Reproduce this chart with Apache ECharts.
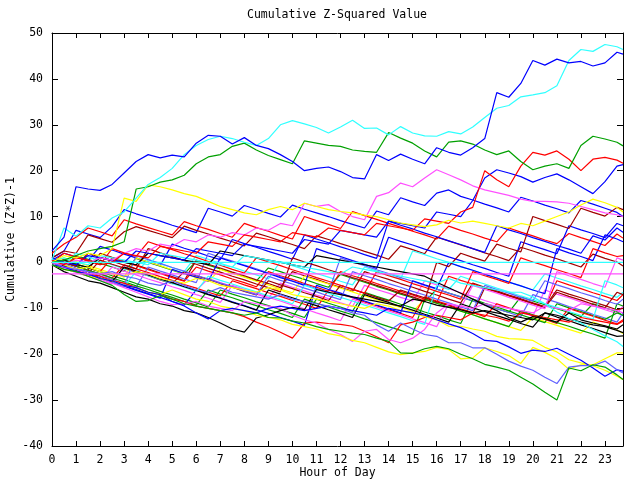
<!DOCTYPE html>
<html>
<head>
<meta charset="utf-8">
<script src="https://cdn.jsdelivr.net/npm/echarts@6/dist/echarts.min.js"></script>
<style>html,body{margin:0;padding:0;background:#fff;}#c{width:640px;height:480px;}</style>
</head>
<body>
<div id="c"></div>
<script>
// ---- data (half-hour samples) ----
const hours = [0,0.5,1,1.5,2,2.5,3,3.5,4,4.5,5,5.5,6,6.5,7,7.5,8,8.5,9,9.5,10,10.5,11,11.5,12,12.5,13,13.5,14,14.5,15,15.5,16,16.5,17,17.5,18,18.5,19,19.5,20,20.5,21,21.5,22,22.5,23,23.5,23.75];
const xTicks = [0,1,2,3,4,5,6,7,8,9,10,11,12,13,14,15,16,17,18,19,20,21,22,23];
const yTicks = [-40,-30,-20,-10,0,10,20,30,40,50];

const p1 = [1,2.5,7,6.2,5.4,7.8,11.5,10.6,9.8,9,8.1,7.3,6.5,11.8,11,10.1,12.4,11.6,10.7,9.9,12.5,11.6,10.8,10,9.1,8.3,7.5,11.2,10.4,14.1,13.2,12.4,15.1,15.8,14.4,13.6,12.7,11.9,11,14.2,13.4,12.5,11.7,10.8,13.5,12.7,11.8,10.9,10];
const p2 = [2,4,5.5,7.5,6.7,5.8,9.3,8.4,7.6,6.8,6,8.9,8,7.2,6.3,5.5,8.5,7.6,6.8,5.9,5.1,10,9.1,8.3,7.4,11.1,10.2,9.4,8.5,7.7,6.8,6,5.1,7.9,7,6.2,5.3,4.5,7.5,6.6,5.8,4.9,4.1,6.3,5.4,4.6,3.7,6.2,5.3];
const p3 = [1,2.5,2,6,5.2,4.4,6.7,7.8,7,6.2,5.4,7.9,7,6.2,5.3,4.5,3.6,6.4,5.6,4.7,3.9,3,5.8,5,4.1,3.3,2.4,1.6,0.7,3.6,2.8,1.9,5.5,4.7,3.8,3,2.1,1.3,0.4,3.3,2.5,1.6,0.8,-0.1,-1,1.8,0.9,0.1,-0.8];
const p4 = [0,-1,1.5,0.7,-0.2,-1,-1.9,0.9,0,-0.8,-1.7,-2.5,0.3,-0.6,-1.4,-2.3,-3.1,-4,-1.2,-2,-2.9,-3.7,-4.6,-5.4,-2.6,-3.5,-4.3,-5.2,-6,-6.9,-7.7,-8.6,-5.8,-6.7,-7.5,-8.4,-9.2,-10.1,-10.9,-7.5,-8.4,-9.2,-10.1,-10.9,-11.8,-9,-9.9,-10.7,-11.6];
const p5 = [0.5,2,1.2,0.4,3.5,2.7,1.8,1,0.1,-0.7,4,3.1,2.3,1.4,0.6,5,4.1,3.3,2.4,1.6,0.7,6,5.1,4.3,3.4,2.6,1.7,0.9,9,8.1,7.3,6.4,5.6,4.7,3.9,3,2.2,8,7.1,6.3,5.4,4.6,3.7,2.9,2,5.8,4.9,7.5,6.6];
const p6 = [-0.5,-1.3,-2.2,-3,-3.9,-4.7,-1,-1.9,-2.7,-3.6,-4.4,-5.3,-6.1,-3.5,-4.4,-5.2,-6.1,-6.9,-7.8,-4.5,-5.4,-6.2,-7.1,-7.9,-8.8,-9.6,-5,-5.9,-6.7,-7.6,-8.4,-4,-4.9,-5.7,-6.6,-7.4,-8.3,-9.1,-10,-10.8,-11.7,-6,-6.9,-7.7,-8.6,-9.4,-10.3,-11.1,-9.5];
const p7 = [0,-0.5,2,1.2,0.3,-0.5,-1.4,-2.2,0.6,-0.3,-1.1,-2,1.5,0.7,-0.2,-1,-1.9,-2.7,-3.6,0.2,-0.7,-1.5,-2.4,-3.2,-4.1,-4.9,-1,-1.9,-2.7,-3.6,2.5,1.7,0.8,0,-0.9,-1.7,-2.6,-3.4,-4.3,-5.1,-6,-2.5,-3.4,-4.2,-5.1,-5.9,-6.8,-7.6,-6.5];
const p8 = [0.5,0,-0.8,-1.7,2,1.1,0.3,-0.6,-1.4,-2.3,-3.1,-4,0.5,-0.4,-1.2,-2.1,-2.9,-3.8,-4.6,-5.5,-2,-2.9,-3.7,-4.6,-5.4,-6.3,-2,-2.9,-3.7,-4.6,-5.4,-6.3,-7.1,-8,-8.8,-4.5,-5.4,-6.2,-7.1,-7.9,-8.8,-9.6,-6,-6.9,-7.7,-8.6,-9.4,-10.3,-10];
const p9 = [0,1,0.2,-0.7,-1.5,-2.4,-3.2,1,0.1,-0.7,-1.6,-2.4,-3.3,-4.1,-1.5,-2.4,-3.2,-4.1,-4.9,-5.8,-6.6,-3,-3.9,-4.7,-5.6,-6.4,-7.3,-8.1,-9,-9.8,-10.7,-8,-8.9,-9.7,-10.6,-11.4,-12.3,-13.1,-14,-14.8,-12,-12.9,-13.7,-14.6,-15.4,-13,-13.9,-14.7,-15.5];
const p10 = [0,0.5,-0.3,-1.2,-2,1,0.1,-0.7,-1.6,-2.4,-3.3,-4.1,-1,-1.9,-2.7,-3.6,-4.4,-5.3,-2,-2.9,-3.7,-4.6,-5.4,-6.3,-2,-2.9,-3.7,-4.6,-5.4,-6.3,-7.1,-8,-8.8,-3,-3.9,-4.7,-5.6,-6.4,-7.3,-8.1,-9,-9.8,-4,-4.9,-5.7,-6.6,-7.4,-8.3,-7];
const p11 = [0.5,-0.3,-1.2,-2,-2.9,-3.7,-4.6,-5.4,-1,-1.9,-2.7,-3.6,-4.4,2,1.1,0.3,-0.6,-1.4,-2.3,-3.1,-4,-4.8,-5.7,-6.5,1,0.1,-0.7,-1.6,-2.4,-3.3,-4.1,-5,-5.8,-6.7,-7.5,-8.4,-9.2,-10.1,-10.9,-11.8,-7,-7.9,-8.7,-9.6,-10.4,-11.3,-12.1,-13,-11];
const p12 = [0,-1,-1.8,-2.7,-3.5,-4.4,-5.2,-6.1,-6.9,-7.8,-1.5,-2.4,-3.2,-4.1,1,0.1,-0.7,-1.6,-2.4,-3.3,-4.1,-5,3,2.1,1.3,0.4,-0.4,-1.3,5.5,4.6,3.8,2.9,2.1,1.2,0.4,-0.5,-1.3,-2.2,-3,4.5,3.6,2.8,1.9,8,7.1,6.3,5.4,8.5,8];
const p13 = [0,0.5,-0.3,-1.2,-2,-2.9,-3.7,-4.6,-5.4,-6.3,-7.1,-8,-8.8,-9.7,-6,-6.9,-7.7,-8.6,-9.4,-10.3,-11.1,-12,-8,-8.9,-9.7,-10.6,-6.5,-7.4,-8.2,-9.1,-9.9,-10.8,-11.6,-12.5,-13.3,-8,-8.9,-9.7,-10.6,-11.4,-12.3,-13.1,-9,-9.9,-10.7,-11.6,-12.4,-11,-11.5];
const p14 = [0.5,0,-0.8,-1.7,-2.5,-3.4,-0.5,-1.4,-2.2,-3.1,-3.9,-4.8,-5.6,-6.5,-7.3,-4,-4.9,-5.7,-6.6,-7.4,-8.3,-9.1,-10,-6,-6.9,-7.7,-8.6,-9.4,-10.3,-11.1,-12,-7.5,-8.4,-9.2,-10.1,-10.9,-11.8,-9,-9.9,-10.7,-11.6,-12.4,-13.3,-10,-10.9,-11.7,-12.6,-13.4,-12.5];
const p15 = [0,-0.8,-1.7,-2.5,0.5,-0.4,-1.2,-2.1,-2.9,-3.8,-4.6,-2,-2.9,-3.7,-4.6,-5.4,-6.3,-7.1,-4,-4.9,-5.7,-6.6,-7.4,-8.3,-5,-5.9,-6.7,-7.6,-8.4,-6,-6.9,-7.7,-8.6,-9.4,-10.3,-11.1,-5.5,-6.4,-7.2,-8.1,-8.9,-9.8,-6.5,-7.4,-8.2,-9.1,-9.9,-6.5,-7];
const p16 = [0,-0.8,-1.7,-2.5,-3.4,-4.2,-5.1,-5.9,-6.8,-7.6,-8.5,-9.3,-6,-6.9,-7.7,-8.6,-9.4,-10.3,-11.1,-12,-12.8,-13.7,-5,-5.9,-6.7,-7.6,-8.4,-9.3,-10.1,-11,-4,-4.9,-5.7,0,-0.9,-1.7,-2.6,-3.4,-4.3,-5.1,-6,-6.8,3,2.1,1.3,0.4,6,5.1,4.5];
const p17 = [-0.5,-1.3,-2.2,-3,-3.9,-1,-1.9,-2.7,-3.6,-4.4,-5.3,-6.1,-7,-7.8,-8.7,-5,-5.9,-6.7,-7.6,-8.4,-9.3,-10.1,-11,-11.8,-12.7,-8,-8.9,-9.7,-10.6,-11.4,-12.3,-13.1,-14,-9,-9.9,-5,-5.9,-6.7,-7.6,-8.4,-9.3,-10.1,-2,-2.9,-3.7,-4.6,-5.4,1,0.5];
const p18 = [0.5,0,-0.8,-1.7,-2.5,-3.4,-4.2,-5.1,-5.9,-6.8,-7.6,-8.5,-9.3,-6,-6.9,-7.7,-8.6,-9.4,-10.3,-11.1,-12,-8,-8.9,-9.7,-10.6,-11.4,-12.3,-13.1,-14,-14.8,-15.7,-8,-8.9,-9.7,-10.6,-11.4,-12.3,-13.1,-14,-10.5,-11.4,-12.2,-13.1,-13.9,-14.8,-15.6,-16.5,-9,-9.5];
const p19 = [0,-0.8,-1.7,-2.5,-3.4,-4.2,-5.1,-2,-2.9,-3.7,-4.6,-5.4,-6.3,-3,-3.9,-4.7,-5.6,-6.4,-7.3,-8.1,-9,-5,-5.9,-6.7,-7.6,-8.4,-9.3,-10.1,-11,-11.8,-12.7,-13.5,-5,-5.9,-3,-3.9,-4.7,-5.6,-6.4,-7.3,-8.1,-9,-9.8,-10.7,-11.5,-12.4,-4,-4.9,-5.5];
const p20 = [0,2,1.2,0.3,-0.5,3,2.1,1.3,4.5,3.6,2.8,1.9,1.1,0.2,-0.6,-1.5,-2.3,1,0.1,-0.7,-1.6,-2.4,-3.3,-4.1,-5,-5.8,-6.7,-2,-2.9,-3.7,-4.6,-5.4,-6.3,-7.1,-8,-2,-2.9,-3.7,-4.6,1,0.1,-0.7,-1.6,-2.4,-3.3,3,2.1,1.3,1.5];
const p21 = [0,-0.8,-1.7,-2.5,-3.4,-4.2,-5.1,1.5,0.6,-0.2,-1.1,-1.9,-2.8,-3.6,-4.5,-5.3,-6.2,-7,-3,-3.9,-4.7,-5.6,-6.4,-7.3,-8.1,-2,-2.9,-3.7,-4.6,-5.4,-6.3,-7.1,-8,-8.8,-9.7,-10.5,-5,-5.9,-6.7,-7.6,-8.4,-4,-4.9,-5.7,-6.6,-7.4,-8.3,-9.1,-8];
const p22 = [0,-0.8,-1.7,-2.5,-3.4,-4.2,-1,-1.9,-2.7,-3.6,-4.4,-5.3,-6.1,-7,-7.8,-8.7,-9.5,-10.4,-6,-6.9,-7.7,-8.6,-9.4,-10.3,-11.1,-12,-7,-7.9,-8.7,-9.6,-10.4,-11.3,-12.1,-13,-9,-9.9,-10.7,-11.6,-12.4,-13.3,-14.1,-11,-11.9,-12.7,-13.6,-14.4,-15.3,-16.1,-16];
const p23 = [0.5,0,-0.8,2,1.1,0.3,-0.6,-1.4,3,2.1,1.3,0.4,-0.4,-1.3,-2.1,-3,-3.8,-4.7,-5.5,-6.4,1,0.1,-0.7,-1.6,-2.4,-3.3,-4.1,-5,-5.8,-6.7,-7.5,-8.4,0,-0.9,2,1.1,0.3,4,3.1,2.3,10,9.1,8.3,7.4,11.8,10.9,10.1,12,11.5];

const blueTop = [2.5,5.5,16.5,16,15.7,17,19.5,22,23.5,22.8,23.4,23,26,27.7,27.5,25.8,27.2,25.5,24.8,23.5,22,20,20.5,20.8,19.8,18.5,18.2,23.5,22.2,23.6,22.5,21.5,25,24,23.4,25,27,37,36,39,44,43,44.3,43.5,43.8,42.8,43.5,45.8,45.4];
const cyanTop = [0.5,7.5,5.7,8,7.5,9.7,11,14,17,18.5,20.5,23.5,25.5,26.8,27.5,27,26.2,25.5,27,30,30.9,30.2,29.4,28.2,29.5,31,29.2,29.3,27.8,29.6,28.2,27.6,27.5,28.5,28,29.5,31.6,33.6,34.2,36.1,36.5,37,38.5,44,46.4,46,47.5,47,46.4];
const greenUpper = [0,0.5,1.5,2.5,3,3.5,4.5,16,16.5,17.5,18,19,21.5,23,23.5,25.3,26,24.5,23.3,22.4,21.5,26.5,26,25.5,25.3,24.5,24.2,24,28.3,27.1,26,24.3,23,26.2,26.5,25.8,24.5,23.5,24.3,22,20.2,21,21.5,20.5,25.5,27.5,26.9,26.2,25.4];
const yellowUpper = [0,1.5,1,2,1.5,3,14,13.3,16.9,16.5,15.8,15,14.4,13.3,12.2,11.5,10.8,10.4,11.5,12.2,11.5,12.9,12.2,11.5,11.1,10.8,10.3,10,9.3,8.6,8.2,7.8,8.2,9.2,8.6,9,8.5,8,7.5,8.5,8,9,10,11,12.5,13.8,13,12,11];
const redUpper = [0.5,-0.5,1,0.5,-0.5,0,2,1.5,1,3.5,3,2.5,2,4.5,4,3.5,6,5.5,5,4.5,6.5,6,5.5,7.5,7,6.5,6,8.5,8,7.5,7,9.5,9,8.5,11,12,20,18,16.5,21,24,23.4,24.3,22.5,20,22.5,22.9,22.3,21.6];
const magentaUpper = [0,-0.5,0.5,0,1,0.5,2,3,2.5,4,3.5,5,4.5,6,5.5,6.5,6,7.5,7,8.5,8,12.9,12.2,12.6,11.1,10,9.3,14.4,15.2,17.3,16.5,18.4,20.2,19.1,18,16.7,15.8,15.2,14.6,13.8,13.3,13.3,13.2,12.9,12.2,11.5,10.8,10.4,10];
const blueMid = [1,0,-0.5,1.5,1,0.5,0,2.5,2,1.5,1,0.5,3,2.5,2,1.5,4,3.5,3,2.5,2,5,4.5,4,7,6.5,6,5.5,9,8.5,8,7.5,11,10.5,10,13.5,18.4,20.2,19.5,18.7,17.5,18.5,19.3,18,16.5,15,17.6,21,21.3];
const greenLow = [-0.5,-1.5,-2,-3,-4,-5,-7,-8.5,-8.3,-7.2,-8,-9,-9.5,-10,-10.5,-11,-11.5,-11,-12,-12.1,-12.8,-13.2,-14,-14.6,-15,-15.4,-15.7,-16.5,-17.2,-19.7,-19.8,-18.8,-18.3,-18.8,-20,-21,-22.2,-22.8,-23.5,-25,-26.5,-28.3,-30,-23,-23.6,-22.3,-22.8,-24.5,-25.5];
const slateLow = [0,-1,-1.5,-2,-2.5,-2,-3,-3.5,-4.5,-5,-4,-5,-6,-6.5,-5.5,-6.5,-7,-7.5,-8,-7,-8,-8.5,-9,-9.5,-10,-11,-11.5,-13.6,-15,-13.2,-14.5,-15.7,-16.1,-17.5,-17.5,-18.6,-18.6,-20,-21.5,-22.6,-23.5,-25,-26.4,-22.8,-22.5,-22.5,-21.5,-23.4,-24.1];
const blueLow = [-0.5,-1,-2,-2.5,-3.5,-4,-5,-5.5,-6.5,-7,-8.5,-9.5,-11,-12.3,-10.5,-10,-10.5,-11,-10,-9.5,-10,-10.5,-10,-9.5,-10,-10.5,-11,-11.5,-10,-10.5,-11,-11.5,-12.5,-13.4,-14.2,-15.5,-17,-17.2,-18.4,-19.8,-19.1,-19.4,-18.7,-20,-21.3,-23,-24.8,-23.4,-23.7];
const yellowLow1 = [0,-0.5,-1.5,-1,-2,-2.5,-3,-2,-2.5,-3.5,-4,-4.5,-3.5,-4,-5,-5.5,-6,-6.5,-5.5,-6,-7,-7.5,-8,-8.5,-9,-9.5,-10,-9,-9.5,-10.5,-11,-11.8,-12.5,-13.9,-13.9,-14.5,-15,-16.1,-16.6,-16.7,-17,-18.5,-19.5,-21.2,-21.9,-22.5,-23.5,-24.8,-25.5];
const yellowLow2 = [-0.5,-1.5,-2,-3,-3.5,-4,-5,-5.5,-6.5,-7,-6,-7,-8,-8.5,-9.5,-10,-10.5,-11.5,-12,-12.5,-13.5,-14,-14.5,-15.5,-16,-17,-17.5,-18.5,-19.5,-20.1,-19.7,-19.4,-18.5,-19,-21,-20.8,-18.6,-19.4,-20.3,-22,-18.5,-19.6,-21,-23.3,-22.3,-22.3,-21,-19.7,-19.7];
const cyanLow = [0.5,1,0,-0.5,1.5,1,0.5,0,-0.5,2,1.5,1,0.5,0,-0.5,-1,1.5,1,0.5,0,-0.5,-1,-1.5,-2,-2.5,-1,-1.5,-2,-2.5,-3,-3.5,-4,-4.5,-3.5,-4.5,-5,-5.5,-6,-6.5,-6.5,-7.5,-9,-10.8,-12.2,-13.2,-14.6,-16,-17.3,-18.3];
const blackLate = [0,0.5,-0.5,-1,1,0.5,0,-0.5,2,1.5,1,0.5,0,-0.5,2.5,2,1.5,1,0.5,0,-0.5,-1,1.5,1,0.5,0,-0.5,-1,-1.5,-2,-2.5,-3,-4.3,-5.5,-6.7,-8,-9.3,-10.5,-12,-13,-11.8,-12.3,-13,-11,-12.5,-13.2,-13.8,-14.5,-13.6];
const blackEarly = [-0.5,-2,-3,-4,-4.5,-5.5,-6.5,-7.5,-8,-9,-9.5,-10.5,-11,-12,-13.2,-14.5,-15.2,-12.1,-11.4,-10.5,-9.8,-10.3,-5.9,-6.5,-7,-7.5,-8,-8.5,-9,-9.5,-8,-8.5,-9.3,-9.8,-10.3,-11,-10.5,-11,-11.5,-12,-12.5,-11,-11.5,-12.3,-13,-13.6,-14,-14.8,-15.3];
const redLow = [0,-1,-1.5,-2.5,-3,-4,-4.5,-5.5,-6.5,-7,-8,-8.5,-9.5,-10,-10.5,-11,-11.8,-13,-14,-15.2,-16.5,-13.2,-13,-13.3,-13.5,-13.9,-15,-16.2,-17.5,-13.6,-13,-12,-11.5,-12,-12.5,-11,-11.5,-12,-12.8,-11,-11.5,-12,-12.5,-13,-12,-12.5,-13,-13.5,-12.8];
const magentaLow = [0,-1,-1.5,-2.5,-3.5,-4.5,-5.5,-6.5,-7.5,-8.5,-9.2,-9,-8.5,-9.5,-10,-10.5,-8.5,-9,-9.5,-10,-11.5,-12.5,-13.2,-14.6,-15.7,-17.2,-15,-14.6,-16.8,-17.5,-16.5,-14.6,-11,-9,-9.5,-10,-9,-9.5,-10,-10.5,-11,-9.5,-10,-10.5,-9,-9.5,-10,-10.5,-11];
const cyanFlat = [0,0,0,0,0,0,0,0,0,0,0,0,0,0,0,0,0,0,0,0,0,0,0,0,0,0,0,0,0,0,0,0,0,0,0,0,0,0,0,0,0,0,0,0,0,0,0,0,0];
const magentaFlat = [-2.5,-2.5,-2.5,-2.5,-2.5,-2.5,-2.5,-2.5,-2.5,-2.5,-2.5,-2.5,-2.5,-2.5,-2.5,-2.5,-2.5,-2.5,-2.5,-2.5,-2.5,-2.5,-2.5,-2.5,-2.5,-2.5,-2.5,-2.5,-2.5,-2.5,-2.5,-2.5,-2.5,-2.5,-2.5,-2.5,-2.5,-2.5,-2.5,-2.5,-2.5,-2.5,-2.5,-2.5,-2.5,-2.5,-2.5,-2.5,-2.5];

// ---- styling ----
const RED='#ff0000', GRN='#00a000', BLU='#0000ff', MAG='#ff50ff', CYN='#30ffff', DRD='#a00000', YEL='#ffff00', BLK='#000000', SLT='#6060ff';
const lines = [
  [p1,BLU],[p2,RED],[p3,DRD],[p4,GRN],[p5,BLU],[p6,MAG],[p7,CYN],[p8,DRD],[p9,YEL],[p10,RED],
  [p11,SLT],[p12,BLU],[p13,GRN],[p14,RED],[p15,DRD],[p16,BLU],[p17,MAG],[p18,GRN],[p19,CYN],[p20,RED],
  [p21,SLT],[p22,BLK],[p23,DRD],
  [redLow,RED],[magentaLow,MAG],[blackEarly,BLK],[blackLate,BLK],[cyanLow,CYN],[yellowLow2,YEL],[yellowLow1,YEL],
  [blueLow,BLU],[slateLow,SLT],[greenLow,GRN],[blueMid,BLU],[magentaUpper,MAG],[redUpper,RED],[yellowUpper,YEL],
  [greenUpper,GRN],[cyanTop,CYN],[blueTop,BLU],[cyanFlat,CYN],[magentaFlat,MAG]
];
const bad = lines.map((l,i)=>[i,l[0].length]).filter(a=>a[1]!==hours.length);

const FONT = '"DejaVu Sans Mono", monospace';
const FS = 11.5;
const txt = {color:'#000', fontFamily:FONT, fontSize:FS};
const axLine = {show:true, onZero:false, lineStyle:{color:'#000', width:1}};
const axTick = {show:true, inside:true, length:5, lineStyle:{color:'#000', width:1}};

const chart = echarts.init(document.getElementById('c'), null, {renderer:'canvas'});
chart.setOption({
  animation:false,
  backgroundColor:'#fff',
  grid:{left:52, right:17, top:33, bottom:34, containLabel:false, outerBoundsMode:'none'},
  graphic:[{type:'text', x:337, y:15, style:{text:'Cumulative Z-Squared Value', fill:'#000', font:FS+'px '+FONT, align:'center', verticalAlign:'middle'}}],
  xAxis:[
    {type:'value', min:0, max:23.75, interval:1, axisLine:axLine, axisTick:axTick, splitLine:{show:false},
     axisLabel:Object.assign({margin:8, showMaxLabel:false, formatter:v=>xTicks.includes(v)?String(v):''}, txt),
     name:'Hour of Day', nameLocation:'middle', nameGap:21, nameMoveOverlap:false, nameTextStyle:txt},
    {type:'value', position:'top', min:0, max:23.75, interval:1, axisLine:axLine, axisTick:axTick, splitLine:{show:false}, axisLabel:{show:false}}
  ],
  yAxis:[
    {type:'value', min:-40, max:50, interval:10, axisLine:axLine, axisTick:Object.assign({}, axTick, {length:6}), splitLine:{show:false},
     axisLabel:Object.assign({margin:9, formatter:v=>yTicks.includes(v)?String(v):''}, txt),
     name:'Cumulative (Z*Z)-1', nameLocation:'middle', nameGap:35, nameMoveOverlap:false, nameRotate:90, nameTextStyle:txt},
    {type:'value', position:'right', min:-40, max:50, interval:10, axisLine:axLine, axisTick:Object.assign({}, axTick, {length:6}), splitLine:{show:false}, axisLabel:{show:false}}
  ],
  series: lines.map((l)=>({
    type:'line', xAxisIndex:0, yAxisIndex:0, symbol:'none', showSymbol:false, silent:true,
    clip:true,
    lineStyle:{width:1.2, color:l[1]}, itemStyle:{color:l[1]},
    data: hours.map((h,i)=>[h, l[0][i]])
  }))
});
if (bad.length) { throw new Error('bad lengths: '+JSON.stringify(bad)); }
</script>
</body>
</html>
